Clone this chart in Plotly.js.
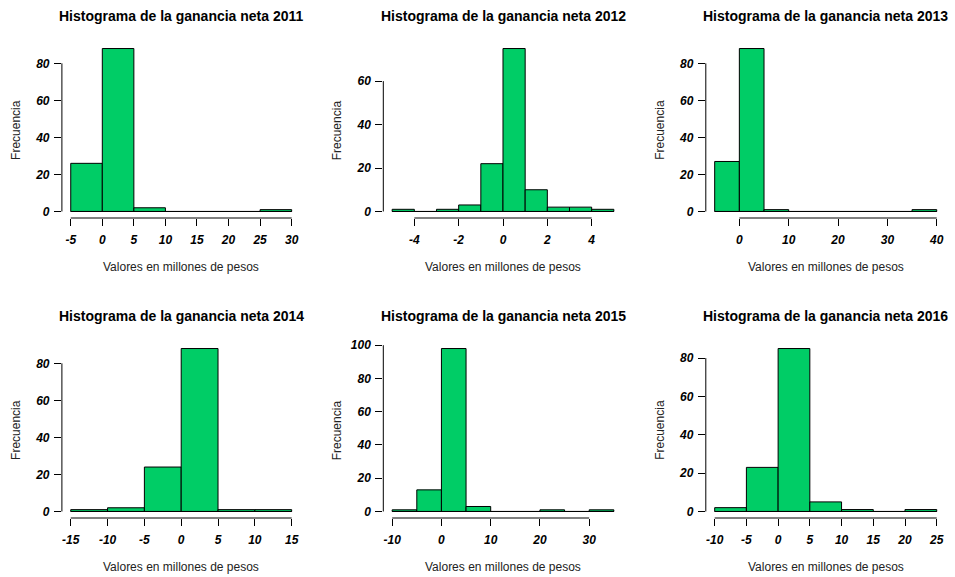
<!DOCTYPE html>
<html>
<head>
<meta charset="utf-8">
<script src="https://cdn.plot.ly/plotly-3.0.1.min.js"></script>
<style>html,body{margin:0;padding:0;background:#fff;}#chart{width:955px;height:577px;}</style>
</head>
<body>
<div id="chart"></div>
<script>
// ---- data ----
const years = [2011, 2012, 2013, 2014, 2015, 2016];

const edges2011 = [-5, 0, 5, 10, 15, 20, 25, 30];
const counts2011 = [26, 88, 2, 0, 0, 0, 1];
const edges2012 = [-5, -4, -3, -2, -1, 0, 1, 2, 3, 4, 5];
const counts2012 = [1, 0, 1, 3, 22, 75, 10, 2, 2, 1];
const edges2013 = [-5, 0, 5, 10, 15, 20, 25, 30, 35, 40];
const counts2013 = [27, 88, 1, 0, 0, 0, 0, 0, 1];
const edges2014 = [-15, -10, -5, 0, 5, 10, 15];
const counts2014 = [1, 2, 24, 88, 1, 1];
const edges2015 = [-10, -5, 0, 5, 10, 15, 20, 25, 30, 35];
const counts2015 = [1, 13, 98, 3, 0, 0, 1, 0, 1];
const edges2016 = [-10, -5, 0, 5, 10, 15, 20, 25];
const counts2016 = [2, 23, 85, 5, 1, 0, 1];

const xTicks2011 = [-5, 0, 5, 10, 15, 20, 25, 30];
const xTicks2012 = [-4, -2, 0, 2, 4];
const xTicks2013 = [0, 10, 20, 30, 40];
const xTicks2014 = [-15, -10, -5, 0, 5, 10, 15];
const xTicks2015 = [-10, 0, 10, 20, 30];
const xTicks2016 = [-10, -5, 0, 5, 10, 15, 20, 25];

const yTicks2011 = [0, 20, 40, 60, 80];
const yTicks2012 = [0, 20, 40, 60];
const yTicks2013 = [0, 20, 40, 60, 80];
const yTicks2014 = [0, 20, 40, 60, 80];
const yTicks2015 = [0, 20, 40, 60, 80, 100];
const yTicks2016 = [0, 20, 40, 60, 80];

const titlePrefix = "Histograma de la ganancia neta ";
const xTitle = "Valores en millones de pesos";
const yTitle = "Frecuencia";

// ---- layout geometry ----
const W = 955, H = 577;
const cols = [[61.9, 300.5], [383.3, 622.7], [705.8, 945.6]];
const rows = [[42, 218], [342, 518]];
const FONT = "Liberation Sans, Arial, sans-serif";
const FILL = "#00CD66";

const panels = [
  {year: years[0], edges: edges2011, counts: counts2011, xt: xTicks2011, yt: yTicks2011},
  {year: years[1], edges: edges2012, counts: counts2012, xt: xTicks2012, yt: yTicks2012},
  {year: years[2], edges: edges2013, counts: counts2013, xt: xTicks2013, yt: yTicks2013},
  {year: years[3], edges: edges2014, counts: counts2014, xt: xTicks2014, yt: yTicks2014},
  {year: years[4], edges: edges2015, counts: counts2015, xt: xTicks2015, yt: yTicks2015},
  {year: years[5], edges: edges2016, counts: counts2016, xt: xTicks2016, yt: yTicks2016}
];

const data = [];
const layout = {
  width: W, height: H, autosize: false,
  margin: {l: 0, r: 0, t: 0, b: 0},
  paper_bgcolor: "#fff", plot_bgcolor: "#fff",
  showlegend: false, bargap: 0,
  font: {family: FONT, color: "#000"},
  shapes: [], annotations: []
};

panels.forEach((p, i) => {
  const c = cols[i % 3], r = rows[Math.floor(i / 3)];
  const sfx = i === 0 ? "" : String(i + 1);
  const xa = "x" + sfx, ya = "y" + sfx;
  const xmin = p.edges[0], xmax = p.edges[p.edges.length - 1];
  const ymax = Math.max(...p.counts);
  const xpad = 0.04 * (xmax - xmin), ypad = 0.04 * ymax;

  const centers = [], widths = [];
  for (let k = 0; k < p.counts.length; k++) {
    centers.push((p.edges[k] + p.edges[k + 1]) / 2);
    widths.push(p.edges[k + 1] - p.edges[k]);
  }
  // baseline (R draws zero-height bins as a line)
  data.push({
    type: "scatter", mode: "lines", x: [xmin, xmax], y: [0, 0],
    xaxis: xa, yaxis: ya, line: {color: "#000", width: 1}, hoverinfo: "skip"
  });
  data.push({
    type: "bar", x: centers, y: p.counts, width: widths,
    xaxis: xa, yaxis: ya,
    marker: {color: FILL, line: {color: "#000", width: 1}}
  });

  const tickFont = {family: FONT, size: 12, weight: "bold", style: "italic", color: "#000"};
  layout["xaxis" + sfx] = {
    domain: [c[0] / W, c[1] / W], anchor: ya,
    range: [xmin - xpad, xmax + xpad], fixedrange: true,
    showgrid: false, zeroline: false, showline: false,
    tickmode: "array", tickvals: p.xt, ticktext: p.xt.map(String),
    ticks: "outside", ticklen: 7, tickwidth: 1, tickcolor: "#000",
    tickfont: tickFont, ticklabelstandoff: 4
  };
  layout["yaxis" + sfx] = {
    domain: [1 - r[1] / H, 1 - r[0] / H], anchor: xa,
    range: [-ypad, ymax + ypad], fixedrange: true,
    showgrid: false, zeroline: false, showline: false,
    tickmode: "array", tickvals: p.yt, ticktext: p.yt.map(String),
    ticks: "outside", ticklen: 7, tickwidth: 1, tickcolor: "#000",
    tickfont: tickFont, ticklabelstandoff: 2
  };
  // R-style axis lines spanning first to last tick
  layout.shapes.push({
    type: "line", xref: xa, yref: ya + " domain",
    x0: p.xt[0], x1: p.xt[p.xt.length - 1], y0: 0, y1: 0,
    line: {color: "#000", width: 1}
  });
  layout.shapes.push({
    type: "line", xref: xa + " domain", yref: ya,
    x0: 0, x1: 0, y0: p.yt[0], y1: p.yt[p.yt.length - 1],
    line: {color: "#000", width: 1}
  });

  const cx = (c[0] + c[1]) / 2;
  layout.annotations.push({
    xref: "paper", yref: "paper", x: cx / W, y: 1 - (r[0] - 26) / H,
    text: "<b>" + titlePrefix + p.year + "</b>", showarrow: false,
    xanchor: "center", yanchor: "middle",
    font: {family: FONT, size: 14, color: "#000"}
  });
  layout.annotations.push({
    xref: "paper", yref: "paper", x: cx / W, y: 1 - (r[1] + 49) / H,
    text: xTitle, showarrow: false, xanchor: "center", yanchor: "middle",
    font: {family: FONT, size: 12, color: "#222"}
  });
  layout.annotations.push({
    xref: "paper", yref: "paper", x: (c[0] - 46) / W, y: 1 - ((r[0] + r[1]) / 2) / H,
    text: yTitle, showarrow: false, textangle: -90, xanchor: "center", yanchor: "middle",
    font: {family: FONT, size: 12, color: "#222"}
  });
});

Plotly.newPlot("chart", data, layout, {staticPlot: true, displayModeBar: false});
</script>
</body>
</html>
